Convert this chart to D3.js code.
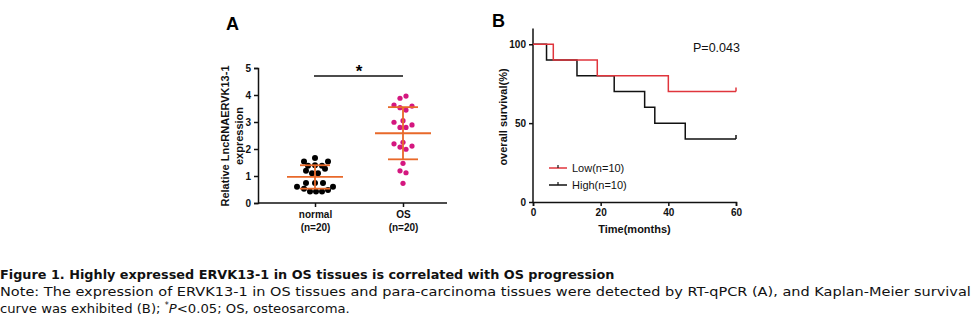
<!doctype html>
<html>
<head>
<meta charset="UTF-8">
<title>Figure 1</title>
<script src="https://d3js.org/d3.v7.min.js"></script>
<style>
  body { margin: 0; background: #fff; }
  svg { display: block; font-family: Arial, "Liberation Sans", sans-serif; }
  .tick text { font-weight: bold; font-size: 10px; fill: #111; }
  .domain, .tick line { stroke: #111; stroke-width: 1.5; }
</style>
</head>
<body>
<script>
// ---- panel A data ----
var groups = ["normal", "OS"];
var groupN = ["(n=20)", "(n=20)"];
var normalValues = [1.54, 1.67, 1.54, 1.38, 1.40, 1.38, 1.27, 1.19, 1.10, 1.10,
                    0.60, 0.74, 0.74, 0.74, 0.60, 0.53, 0.43, 0.43, 0.43, 0.48];
var normalJitter = [-11, 0, 13, -7, 0, 7, 10, -9, -3, 3, -18, -9, 0, 8, 18, -11, -5, 1, 7, 13];
var osValues = [3.88, 3.96, 3.63, 3.53, 3.44, 3.59, 2.99, 3.05, 2.80, 2.80,
                2.89, 2.19, 2.25, 2.07, 1.99, 2.11, 1.47, 1.19, 1.12, 0.73];
var osJitter = [-3, 3, -9, -3, 3, 9, -9, 0, -3, 3, 9, -9, 0, -3, 3, 9, 0, -3, 3, 0];
var yTicksA = [0, 1, 2, 3, 4, 5];

// ---- panel B data ----
var lowTime = [0, 6, 19, 40, 60];
var lowSurv = [100, 90, 80, 70, 70];
var highTime = [0, 4, 13, 24, 33, 36, 45, 60];
var highSurv = [100, 90, 80, 70, 60, 50, 40, 40];
var xTicksB = [0, 20, 40, 60];
var yTicksB = [0, 50, 100];
var legendLabels = ["Low(n=10)", "High(n=10)"];
var pText = "P=0.043";

var w = 974, h = 336;
var orange = "#e8692a", pink = "#d4177f", red = "#e0353c";

var svg = d3.select("body").append("svg").attr("width", w).attr("height", h);

// ================= panel A =================
var xA = d3.scalePoint().domain(groups).range([315, 403]);
var yA = d3.scaleLinear().domain([0, 5]).range([203, 68]);

var gA = svg.append("g");
gA.append("g")
  .attr("transform", "translate(258,0)")
  .call(d3.axisLeft(yA).tickValues(yTicksA).tickFormat(d3.format("d")).tickSize(4).tickPadding(3));

var xaxA = gA.append("g")
  .attr("transform", "translate(0,203)")
  .call(d3.axisBottom(xA).tickSize(4).tickFormat(""));
xaxA.select(".domain").attr("d", "M258,0H447");

xaxA.selectAll(".tick").each(function(d, i) {
  var t = d3.select(this);
  t.append("text").attr("y", 15).attr("text-anchor", "middle").text(d);
  t.append("text").attr("y", 28).attr("text-anchor", "middle").text(groupN[i]);
});

gA.append("text")
  .attr("transform", "translate(229,136) rotate(-90)")
  .attr("text-anchor", "middle")
  .attr("font-size", 11).attr("font-weight", "bold").attr("fill", "#111")
  .text("Relative LncRNAERVK13-1");
gA.append("text")
  .attr("transform", "translate(243,136) rotate(-90)")
  .attr("text-anchor", "middle")
  .attr("font-size", 11).attr("font-weight", "bold").attr("fill", "#111")
  .text("expression");

gA.append("text").attr("x", 226).attr("y", 30)
  .attr("font-size", 18).attr("font-weight", "bold").text("A");

var sets = [
  { g: "normal", v: normalValues, j: normalJitter, c: "#000", r: 3 },
  { g: "OS", v: osValues, j: osJitter, c: pink, r: 2.6 }
];

sets.forEach(function(s) {
  var cx = xA(s.g);
  var m = d3.mean(s.v), sd = d3.deviation(s.v);
  gA.selectAll(null).data(s.v).enter().append("circle")
    .attr("cx", function(d, i) { return cx + s.j[i]; })
    .attr("cy", function(d) { return yA(d); })
    .attr("r", s.r)
    .attr("fill", s.c);
  var eb = gA.append("g").attr("stroke", orange).attr("stroke-width", 1.8);
  eb.append("line").attr("x1", cx).attr("x2", cx).attr("y1", yA(m + sd)).attr("y2", yA(m - sd));
  eb.append("line").attr("x1", cx - 28).attr("x2", cx + 28).attr("y1", yA(m)).attr("y2", yA(m));
  eb.append("line").attr("x1", cx - 15).attr("x2", cx + 15).attr("y1", yA(m + sd)).attr("y2", yA(m + sd));
  eb.append("line").attr("x1", cx - 15).attr("x2", cx + 15).attr("y1", yA(m - sd)).attr("y2", yA(m - sd));
});

// significance bar
gA.append("line").attr("x1", xA("normal") - 1).attr("x2", xA("OS"))
  .attr("y1", 76).attr("y2", 76).attr("stroke", "#111").attr("stroke-width", 1.5);
gA.append("text").attr("x", (xA("normal") + xA("OS")) / 2).attr("y", 77)
  .attr("text-anchor", "middle").attr("font-size", 17).attr("font-weight", "bold").text("*");

// ================= panel B =================
var xB = d3.scaleLinear().domain([0, 60]).range([533, 736]);
var yB = d3.scaleLinear().domain([0, 110]).range([202, 28.5]);

var gB = svg.append("g");
var yaxB = gB.append("g").attr("transform", "translate(533,0)")
  .call(d3.axisLeft(yB).tickValues(yTicksB).tickSize(4).tickPadding(3));
yaxB.select(".domain").attr("d", "M0," + yB(0) + "V" + yB(110));
gB.append("g").attr("transform", "translate(0,202)")
  .call(d3.axisBottom(xB).tickValues(xTicksB).tickSize(4).tickPadding(3));

gB.append("text")
  .attr("transform", "translate(507,117) rotate(-90)")
  .attr("text-anchor", "middle")
  .attr("font-size", 11).attr("font-weight", "bold").attr("fill", "#111")
  .text("overall survival(%)");
gB.append("text").attr("x", (xB(0) + xB(60)) / 2).attr("y", 233)
  .attr("text-anchor", "middle")
  .attr("font-size", 11).attr("font-weight", "bold").attr("fill", "#111")
  .text("Time(months)");

gB.append("text").attr("x", 492).attr("y", 27)
  .attr("font-size", 18).attr("font-weight", "bold").text("B");

gB.append("text").attr("x", 693).attr("y", 52)
  .attr("font-size", 12.5).attr("fill", "#111").text(pText);

var step = d3.line()
  .x(function(d) { return xB(d[0]); })
  .y(function(d) { return yB(d[1]); })
  .curve(d3.curveStepAfter);

var curves = [
  { t: highTime, s: highSurv, c: "#111" },
  { t: lowTime, s: lowSurv, c: red }
];
curves.forEach(function(k) {
  var pts = k.t.map(function(t, i) { return [t, k.s[i]]; });
  gB.append("path").attr("d", step(pts))
    .attr("fill", "none").attr("stroke", k.c).attr("stroke-width", 1.5);
  var last = pts[pts.length - 1];
  gB.append("line").attr("x1", xB(last[0])).attr("x2", xB(last[0]))
    .attr("y1", yB(last[1])).attr("y2", yB(last[1]) - 4)
    .attr("stroke", k.c).attr("stroke-width", 1.5);
});

// legend
var legColors = [red, "#111"];
legendLabels.forEach(function(lab, i) {
  var ly = 168 + i * 17;
  gB.append("line").attr("x1", 549).attr("x2", 567).attr("y1", ly).attr("y2", ly)
    .attr("stroke", legColors[i]).attr("stroke-width", 1.5);
  gB.append("line").attr("x1", 558).attr("x2", 558).attr("y1", ly).attr("y2", ly - 3)
    .attr("stroke", i === 0 ? "#111" : legColors[i]).attr("stroke-width", 1.2);
  gB.append("text").attr("x", 572).attr("y", ly + 4)
    .attr("font-size", 11).attr("fill", "#111").text(lab);
});

// ================= caption =================
var cap = svg.append("g").attr("font-family", "'DejaVu Sans', Verdana, sans-serif")
  .attr("font-size", 13).attr("fill", "#111");

// squeeze a caption line horizontally so it ends where the original does
function fitWidth(sel, target) {
  var natural = sel.node().getComputedTextLength();
  sel.attr("transform", "translate(0," + sel.attr("data-y") + ") scale(" + (target / natural) + ",1)");
}

var l1 = cap.append("text").attr("data-y", 279).attr("font-weight", "bold")
  .text("Figure 1. Highly expressed ERVK13-1 in OS tissues is correlated with OS progression");
fitWidth(l1, 615);

var l2 = cap.append("text").attr("data-y", 296)
  .text("Note: The expression of ERVK13-1 in OS tissues and para-carcinoma tissues were detected by RT-qPCR (A), and Kaplan-Meier survival");
fitWidth(l2, 972);

var l3 = cap.append("text").attr("data-y", 313);
l3.append("tspan").text("curve was exhibited (B); ");
l3.append("tspan").attr("font-size", 8).attr("dy", -5).text("*");
l3.append("tspan").attr("font-style", "italic").attr("dy", 5).text("P");
l3.append("tspan").text("<0.05; OS, osteosarcoma.");
fitWidth(l3, 350);
</script>
</body>
</html>
